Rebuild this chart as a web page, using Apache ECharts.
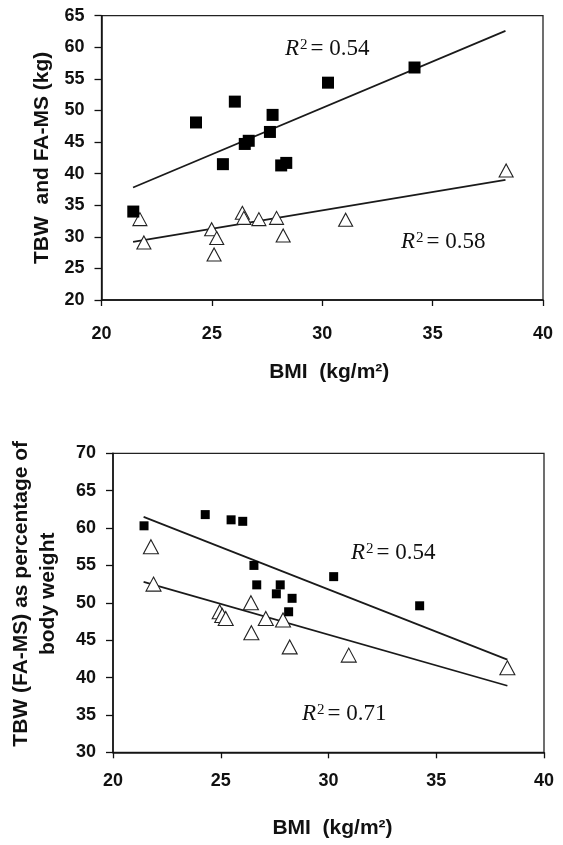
<!DOCTYPE html>
<html><head><meta charset="utf-8">
<script src="https://cdn.jsdelivr.net/npm/echarts@6/dist/echarts.min.js"></script>
<style>html,body{margin:0;padding:0;background:#fff}#c{width:563px;height:845px}</style>
</head><body><div id="c"></div>
<script>
// ---- data ----
const bmiTicks = [20, 25, 30, 35, 40];
const topYTicks = [20, 25, 30, 35, 40, 45, 50, 55, 60, 65];
const botYTicks = [30, 35, 40, 45, 50, 55, 60, 65, 70];

// Top panel: TBW (kg) squares, FA-MS (kg) triangles
const topTbwBmi = [21.44, 24.28, 25.5, 26.04, 26.49, 26.67, 27.63, 27.75, 28.14, 28.37, 30.26, 34.18];
const topTbwKg  = [34.0, 48.1, 41.5, 51.4, 44.7, 45.2, 46.6, 49.3, 41.3, 41.7, 54.4, 56.8];
const topFaBmi  = [21.74, 21.92, 24.99, 25.10, 25.22, 26.38, 26.45, 27.13, 27.93, 28.23, 31.06, 38.33];
const topFaKg   = [32.8, 29.1, 31.2, 27.2, 29.8, 33.8, 33.0, 32.8, 33.0, 30.2, 32.7, 40.5];
const topTbwFitBmi = [21.43, 38.30];
const topTbwFitKg  = [37.8, 62.6];
const topFaFitBmi  = [21.43, 38.30];
const topFaFitKg   = [29.2, 39.0];

// Bottom panel: % of body weight
const botTbwBmi = [21.44, 24.28, 25.48, 26.02, 26.54, 26.67, 27.58, 27.76, 28.15, 28.31, 30.24, 34.23];
const botTbwPct = [60.3, 61.8, 61.1, 60.9, 55.0, 52.4, 51.2, 52.4, 48.8, 50.6, 53.5, 49.6];
const botFaBmi  = [21.76, 21.88, 24.95, 25.07, 25.23, 26.40, 26.42, 27.09, 27.89, 28.20, 30.94, 38.30];
const botFaPct  = [57.5, 52.5, 48.8, 48.3, 47.9, 50.0, 46.0, 47.9, 47.7, 44.1, 43.0, 41.3];
const botTbwFitBmi = [21.42, 38.30];
const botTbwFitPct = [61.5, 42.4];
const botFaFitBmi  = [21.42, 38.30];
const botFaFitPct  = [52.8, 38.9];

const r2Labels = ['0.54', '0.58', '0.54', '0.71'];

// ---- build ----
const zip = (a, b) => a.map((v, i) => [v, b[i]]);
const SANS = '"Liberation Sans", Arial, sans-serif';
const SERIF = '"Liberation Serif", "Times New Roman", serif';
const INK = '#111';

function xAxisCfg(grid, margin, gap, pad) {
  return {
    gridIndex: grid, type: 'value',
    min: bmiTicks[0], max: bmiTicks[bmiTicks.length - 1], interval: bmiTicks[1] - bmiTicks[0],
    axisLine: { show: true, lineStyle: { color: INK, width: 1.5 } },
    axisTick: { show: true, length: 6, lineStyle: { color: INK, width: 1.3 } },
    axisLabel: { color: INK, fontFamily: SANS, fontWeight: 'bold', fontSize: 18, margin: margin },
    splitLine: { show: false },
    name: 'BMI  (kg/m²)', nameLocation: 'middle', nameGap: gap,
    nameTextStyle: { color: INK, fontFamily: SANS, fontWeight: 'bold', fontSize: 21, padding: pad }
  };
}
function yAxisCfg(grid, ticks, name, gap, extra) {
  return {
    gridIndex: grid, type: 'value',
    min: ticks[0], max: ticks[ticks.length - 1], interval: ticks[1] - ticks[0],
    axisLine: { show: true, lineStyle: { color: INK, width: 1.5 } },
    axisTick: { show: true, length: 7, lineStyle: { color: INK, width: 1.3 } },
    axisLabel: { color: INK, fontFamily: SANS, fontWeight: 'bold', fontSize: 18, margin: 17 },
    splitLine: { show: false },
    name: name, nameLocation: 'middle', nameGap: gap, nameRotate: 90,
    nameTextStyle: Object.assign({ color: INK, fontFamily: SANS, fontWeight: 'bold', fontSize: 21 }, extra || {})
  };
}
function fitLine(grid, xs, ys) {
  return {
    type: 'line', xAxisIndex: grid, yAxisIndex: grid, data: zip(xs, ys),
    showSymbol: false, symbol: 'none', silent: true, z: 2,
    lineStyle: { color: '#1a1a1a', width: 1.7 }
  };
}
function squares(grid, xs, ys, size) {
  return {
    type: 'scatter', xAxisIndex: grid, yAxisIndex: grid, data: zip(xs, ys),
    symbol: 'rect', symbolSize: size, z: 4,
    itemStyle: { color: '#000', opacity: 1, borderWidth: 0 }
  };
}
function triangles(grid, xs, ys, size) {
  return {
    type: 'scatter', xAxisIndex: grid, yAxisIndex: grid, data: zip(xs, ys),
    symbol: 'triangle', symbolSize: size, z: 3,
    itemStyle: { color: '#fff', opacity: 1, borderColor: '#222', borderWidth: 1.1 }
  };
}
function r2(x, y, val) {
  return {
    type: 'text', x: x, y: y, z: 10,
    style: {
      text: '{i|R}{s|2}{n|= ' + val + '}',
      textAlign: 'left', textVerticalAlign: 'middle', align: 'left', verticalAlign: 'middle',
      rich: {
        i: { fontFamily: SERIF, fontStyle: 'italic', fontSize: 23, fill: INK, color: INK },
        s: { fontFamily: SERIF, fontSize: 15, fill: INK, color: INK, verticalAlign: 'top', padding: [0, 3, 0, 1] },
        n: { fontFamily: SERIF, fontSize: 23, fill: INK, color: INK }
      }
    }
  };
}

const chart = echarts.init(document.getElementById('c'), null, { renderer: 'canvas' });
chart.setOption({
  backgroundColor: '#fff',
  animation: false,
  grid: [
    { left: 101.5, right: 20, top: 15.7, height: 284.3, show: true, borderColor: '#222', borderWidth: 1.3 },
    { left: 105.5, right: 19, top: 453.3, height: 299, show: true, borderColor: '#222', borderWidth: 1.3 }
  ],
  xAxis: [xAxisCfg(0, 25, 62, [0, 0, 0, 14]), xAxisCfg(1, 20, 65, [0, 0, 0, 8])],
  yAxis: [
    yAxisCfg(0, topYTicks, 'TBW  and FA-MS (kg)', 49),
    yAxisCfg(1, botYTicks, 'TBW (FA-MS) as percentage of\nbody weight', 51, { lineHeight: 27, padding: [0, 0, 0, 18] })
  ],
  series: [
    fitLine(0, topTbwFitBmi, topTbwFitKg),
    fitLine(0, topFaFitBmi, topFaFitKg),
    triangles(0, topFaBmi, topFaKg, [14, 13]),
    squares(0, topTbwBmi, topTbwKg, 12),
    fitLine(1, botTbwFitBmi, botTbwFitPct),
    fitLine(1, botFaFitBmi, botFaFitPct),
    triangles(1, botFaBmi, botFaPct, [15, 14]),
    squares(1, botTbwBmi, botTbwPct, 9)
  ],
  graphic: [
    r2(285, 49, r2Labels[0]),
    r2(401, 242, r2Labels[1]),
    r2(351, 553, r2Labels[2]),
    r2(302, 714, r2Labels[3])
  ]
});
</script>
</body></html>
